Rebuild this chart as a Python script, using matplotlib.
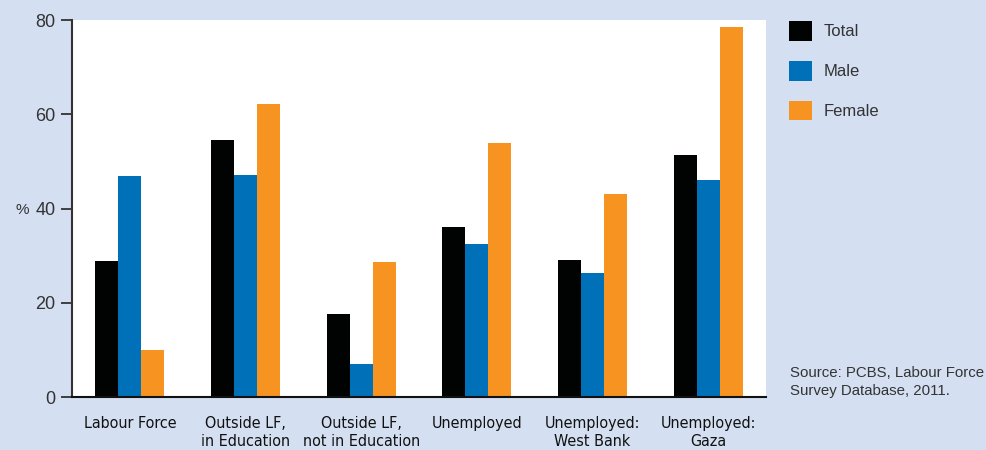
### Imports ###

import numpy as np
import matplotlib
matplotlib.use('Agg')
from matplotlib import pyplot as plt

### Data ###

categories = ['Labour Force', 'Outside LF,\nin Education', 'Outside LF,\nnot in Education',
              'Unemployed', 'Unemployed:\nWest Bank', 'Unemployed:\nGaza']
total = [28.9, 54.6, 17.6, 36.1, 29.1, 51.4]
male = [46.9, 47.1, 7.0, 32.5, 26.3, 46.1]
female = [10.0, 62.2, 28.7, 53.9, 43.1, 78.6]
series_names = ['Total', 'Male', 'Female']
y_ticks = [0, 20, 40, 60, 80]

### Style ###

bg = '#d4e0f2'
colors = ['#010202', '#0071b9', '#f79421']
text_col = '#333333'
plt.rcParams['font.family'] = ['Liberation Sans', 'DejaVu Sans']

### Plot ###

fig = plt.figure(figsize=(9.87, 4.5), dpi=100, facecolor=bg)
ax = fig.add_axes([72 / 987, 53 / 450, 694 / 987, 377 / 450])
ax.set_facecolor('white')

x = np.arange(len(categories))
width = 0.198
for i, (name, vals) in enumerate(zip(series_names, [total, male, female])):
    ax.bar(x + (i - 1) * width, vals, width, color=colors[i], label=name, linewidth=0)

# Axes limits and ticks
ax.set_xlim(-0.5, len(categories) - 0.5)
ax.set_ylim(0, 80)
ax.set_yticks(y_ticks)
ax.set_xticks(x)
ax.set_xticklabels(categories, family='DejaVu Sans', stretch='condensed', fontsize=11.5,
                   color='#111111', linespacing=1.25)
ax.tick_params(axis='x', length=0, pad=14)
ax.tick_params(axis='y', length=8, width=1.3, color=text_col, labelsize=13, labelcolor=text_col, pad=4)

for side in ['top', 'right']:
    ax.spines[side].set_visible(False)
ax.spines['left'].set_color(text_col)
ax.spines['left'].set_linewidth(1.5)
ax.spines['bottom'].set_color('#111111')
ax.spines['bottom'].set_linewidth(1.5)

# % label
fig.text(22 / 987, 1 - 210 / 450, '%', fontsize=11, color=text_col, ha='center', va='center')

# Legend
ax.legend(loc='upper left', bbox_to_anchor=(774 / 987, 1 - 6 / 450), bbox_transform=fig.transFigure,
          frameon=False, fontsize=12, handlelength=1.35, handleheight=1.45, labelspacing=1.2,
          handletextpad=0.72, labelcolor=text_col)

# Source note
fig.text(790 / 987, 1 - 382 / 450, 'Source: PCBS, Labour Force\nSurvey Database, 2011.',
         fontsize=10.8, color=text_col, ha='left', va='center', linespacing=1.3)

fig.savefig('out.png', dpi=100, facecolor=bg)
